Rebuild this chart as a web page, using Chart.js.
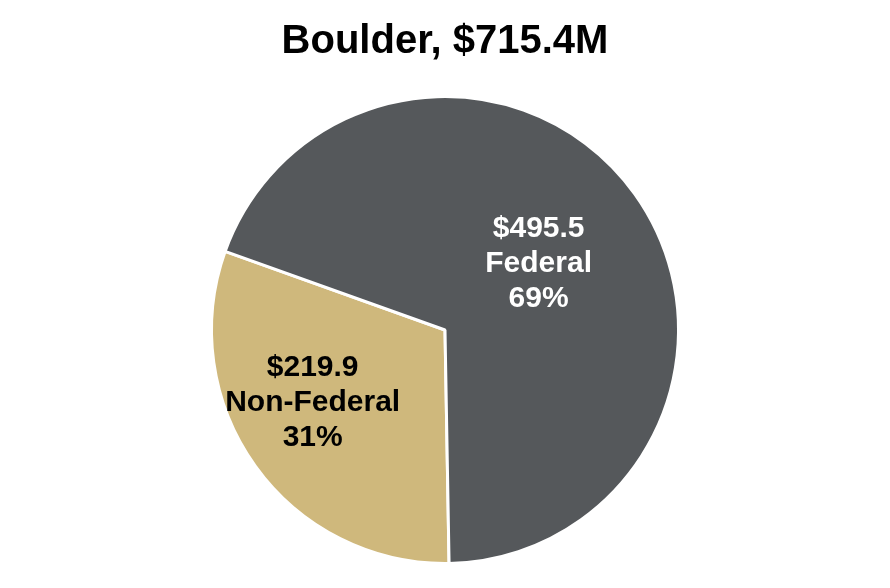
<!DOCTYPE html>
<html>
<head>
<meta charset="utf-8">
<script src="https://cdn.jsdelivr.net/npm/chart.js@4/dist/chart.umd.min.js"></script>
<style>
  html, body { margin: 0; padding: 0; background: #fff; }
  #wrap { width: 890px; height: 588px; }
</style>
</head>
<body>
<div id="wrap"><canvas id="pie"></canvas></div>
<script>
// chart data
const categories = ["Non-Federal", "Federal"];
const amounts = [219.9, 495.5];
const percents = [31, 69];
const titleText = "Boulder, $715.4M";

const sliceColors = ["#CFB87C", "#55585B"];
const labelColors = ["#000000", "#ffffff"];
// where each label sits: fraction of radius, angle shift (deg)
const labelSpots = [
  { frac: 0.64, shift: 8 },
  { frac: 0.5, shift: -1 },
];

const sliceLabels = {
  id: "sliceLabels",
  afterDatasetsDraw(chart) {
    const ctx = chart.ctx;
    const arcs = chart.getDatasetMeta(0).data;
    ctx.save();
    ctx.font = "bold 30px 'Liberation Sans', Arial, sans-serif";
    ctx.textAlign = "center";
    ctx.textBaseline = "middle";
    arcs.forEach((arc, i) => {
      const mid = (arc.startAngle + arc.endAngle) / 2 + labelSpots[i].shift * Math.PI / 180;
      const r = arc.outerRadius * labelSpots[i].frac;
      const x = arc.x + Math.cos(mid) * r;
      const y = arc.y + Math.sin(mid) * r + 3;
      const lines = ["$" + amounts[i].toFixed(1), categories[i], percents[i] + "%"];
      ctx.fillStyle = labelColors[i];
      lines.forEach((t, k) => {
        ctx.fillText(t, x, y + (k - 1) * 35);
      });
    });
    ctx.restore();
  },
};

new Chart(document.getElementById("pie"), {
  type: "pie",
  data: {
    labels: categories,
    datasets: [
      {
        data: amounts,
        backgroundColor: sliceColors,
        borderColor: "#ffffff",
        borderWidth: 3,
      },
    ],
  },
  options: {
    responsive: true,
    maintainAspectRatio: false,
    animation: false,
    rotation: 179,
    layout: { padding: { top: 0, bottom: 23 } },
    plugins: {
      legend: { display: false },
      tooltip: { enabled: false },
      title: {
        display: true,
        text: titleText,
        color: "#000",
        font: { family: "'Liberation Sans', Arial, sans-serif", size: 40, weight: "bold", lineHeight: 1 },
        padding: { top: 22, bottom: 33 },
      },
    },
  },
  plugins: [sliceLabels],
});
</script>
</body>
</html>
